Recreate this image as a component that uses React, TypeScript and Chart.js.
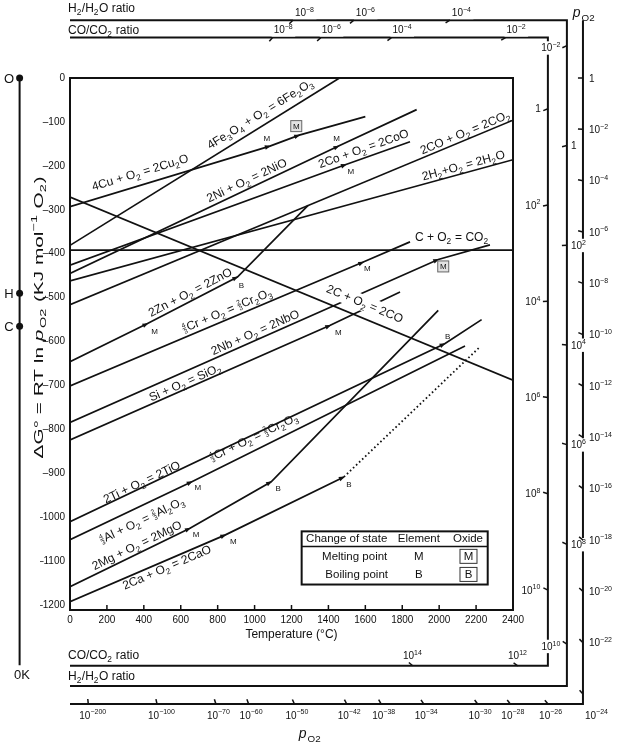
import React, { useEffect, useRef } from "react";
import { Chart, registerables } from "chart.js";

Chart.register(...registerables);

const FONT = "'Liberation Sans', Arial, Helvetica, sans-serif";
const INK = "#111";

// Axis ticks
const tempTicks = [0, 200, 400, 600, 800, 1000, 1200, 1400, 1600, 1800, 2000, 2200, 2400];
const dgTicks = [0, -100, -200, -300, -400, -500, -600, -700, -800, -900, -1000, -1100, -1200];

// Reaction lines: [temperature °C, ΔG° kJ/mol O2]
const cuLine = [[0, -293], [1083, -155], [1242, -130], [1600, -88]];
const fe3o4Line = [[0, -381], [1460, 0]];
const niLine = [[0, -445], [1455, -155], [1878, -72]];
const coLine = [[0, -426], [1495, -197], [1842, -145]];
const coCo2Line = [[0, -516], [2400, -96]];
const h2Line = [[0, -462], [2400, -186]];
const cCo2Line = [[0, -392], [2400, -392]];
const cCoLine = [[0, -271], [2400, -688]];
const znLine = [[0, -646], [420, -559], [907, -453], [1290, -290]];
const crLine = [[0, -701], [1589, -419], [1842, -373]];
const nbLine = [[0, -784], [1995, -413], [2275, -380]];
const siLine = [[0, -824], [1410, -563], [1788, -487]];
const tiLine = [[0, -1010], [2030, -605], [2230, -550]];
const alLine = [[0, -1051], [660, -919], [2140, -610]];
const mgLine = [[0, -1158], [650, -1025], [1090, -919], [1995, -529]];
const caLine = [[0, -1192], [842, -1040], [1484, -908]];
const caVapourLine = [[1484, -908], [2221, -612]];

const solidLines = [cuLine, fe3o4Line, niLine, coLine, coCo2Line, h2Line, cCo2Line, cCoLine,
  znLine, crLine, nbLine, siLine, tiLine, alLine, mgLine, caLine];

// Reaction labels (text centre in data units)
const lineLabels = [
  { text: "4Cu + O_2 = 2Cu_2O", t: 379, g: -214, along: cuLine },
  { text: "4Fe_3O_4 + O_2 = 6Fe_2O_3", t: 1029, g: -81, along: fe3o4Line },
  { text: "2Ni + O_2 = 2NiO", t: 957, g: -232, along: niLine },
  { text: "2Co + O_2 = 2CoO", t: 1589, g: -160, along: coLine },
  { text: "2CO + O_2 = 2CO_2", t: 2140, g: -123, along: coCo2Line },
  { text: "2H_2+O_2 = 2H_2O", t: 2131, g: -198, along: h2Line },
  { text: "C + O_2 = CO_2", t: 2068, g: -362, along: cCo2Line },
  { text: "2Zn + O_2 = 2ZnO", t: 650, g: -487, along: znLine },
  { text: "{4/3}Cr + O_2 = {2/3}Cr_2O_3", t: 849, g: -528, along: crLine },
  { text: "2Nb + O_2 = 2NbO", t: 1002, g: -578, along: nbLine },
  { text: "Si + O_2 = SiO_2", t: 623, g: -692, along: siLine },
  { text: "2C + O_2 = 2CO", t: 1598, g: -513, along: cCoLine, bg: true },
  { text: "{4/3}Cr + O_2 = {2/3}Cr_2O_3", t: 993, g: -817, along: tiLine },
  { text: "2Ti + O_2 = 2TiO", t: 388, g: -919, along: tiLine },
  { text: "{4/3}Al + O_2 = {2/3}Al_2O_3", t: 388, g: -1006, along: alLine },
  { text: "2Mg + O_2 = 2MgO", t: 361, g: -1063, along: mgLine },
  { text: "2Ca + O_2 = 2CaO", t: 524, g: -1113, along: caLine },
];

// Changes of state (M = melting, B = boiling; oxide = boxed)
const transitions = [
  { on: cuLine, t: 1083, kind: "M", oxide: false },
  { on: cuLine, t: 1242, kind: "M", oxide: true },
  { on: niLine, t: 1455, kind: "M", oxide: false },
  { on: coLine, t: 1495, kind: "M", oxide: false },
  { on: znLine, t: 420, kind: "M", oxide: false },
  { on: znLine, t: 907, kind: "B", oxide: false },
  { on: crLine, t: 1589, kind: "M", oxide: false },
  { on: nbLine, t: 1995, kind: "M", oxide: true },
  { on: siLine, t: 1410, kind: "M", oxide: false },
  { on: tiLine, t: 2030, kind: "B", oxide: false },
  { on: alLine, t: 660, kind: "M", oxide: false },
  { on: mgLine, t: 650, kind: "M", oxide: false },
  { on: mgLine, t: 1090, kind: "B", oxide: false },
  { on: caLine, t: 842, kind: "M", oxide: false },
  { on: caLine, t: 1484, kind: "B", oxide: false },
];
const transitionLabelOffsets = [[-3, -8], [-3, -9], [-2, -8], [5, 7], [7, 8], [4, 8], [4, 6], [5, 7],
  [8, 7], [3, -7], [6, 6], [6, 6], [7, 7], [8, 6], [5, 7]];

// Nomographic scales
const ZERO_K = -273;
const R_GAS = 0.008314;
const LN10 = Math.log(10);
const oPivot = 0;
const hPivot = -490;
const hEntropy = 0.1135;
const cPivot = -565;
const cEntropy = 0.173;
const leftAxisBottom = -1337;

const po2Box = { right: 2779, top: 131.5, bottom: -1425 };
const h2Box = { right: 2692, top: 131.5, bottom: -1384 };
const coBox = { right: 2589, top: 92, bottom: -1338 };

const po2RightExp = [0, -2, -4, -6, -8, -10, -12, -14, -16, -18, -20, -22];
const po2CornerExp = [-24];
const po2BottomExp = [-200, -100, -70, -60, -50, -42, -38, -34, -30, -28, -26];
const h2TopExp = [-8, -6, -4];
const h2RightExp = [-2, 0, 2, 4, 6, 8, 10];
const h2RightSide = ["L", "R", "R", "R", "R", "R", "L"];
const coTopExp = [-8, -6, -4, -2];
const coRightExp = [0, 2, 4, 6, 8, 10];
const coBottomExp = [14, 12];

const legendBox = { t0: 1255, t1: 2263, g0: -1032, g1: -1153 };

function parseRich(s: string) {
  const segs: any[] = [];
  let buf = "";
  const flush = () => { if (buf) { segs.push({ k: "n", t: buf }); buf = ""; } };
  let i = 0;
  while (i < s.length) {
    const c = s[i];
    if (c === "_" || c === "^") {
      flush();
      let t: string;
      if (s[i + 1] === "{") { const j = s.indexOf("}", i + 2); t = s.slice(i + 2, j); i = j + 1; }
      else { t = s[i + 1]; i += 2; }
      segs.push({ k: c === "_" ? "sub" : "sup", t });
    } else if (c === "{") {
      flush();
      const j = s.indexOf("}", i + 1);
      const [a, b] = s.slice(i + 1, j).split("/");
      segs.push({ k: "frac", t: a, d: b });
      i = j + 1;
    } else if (c === "*") {
      flush();
      segs.push({ k: "it", t: s[i + 1] });
      i += 2;
    } else { buf += c; i++; }
  }
  flush();
  return segs;
}

function drawRich(ctx: CanvasRenderingContext2D, s: string, x: number, y: number, size: number, opts: any = {}) {
  const { angle = 0, align = "center", bg = false, stretch = 1 } = opts;
  const segs = parseRich(s);
  const fN = `${size}px ${FONT}`;
  const fI = `italic ${size}px ${FONT}`;
  const fS = `${(size * 0.7).toFixed(1)}px ${FONT}`;
  const fF = `${(size * 0.55).toFixed(1)}px ${FONT}`;
  const widths = segs.map((g) => {
    if (g.k === "n") { ctx.font = fN; return ctx.measureText(g.t).width; }
    if (g.k === "it") { ctx.font = fI; return ctx.measureText(g.t).width + 1; }
    if (g.k === "frac") { ctx.font = fF; return Math.max(ctx.measureText(g.t).width, ctx.measureText(g.d).width) + 1.5; }
    ctx.font = fS; return ctx.measureText(g.t).width + 0.5;
  });
  const total = widths.reduce((a: number, b: number) => a + b, 0);
  ctx.save();
  ctx.translate(x, y);
  ctx.rotate(angle);
  ctx.scale(stretch, 1);
  let cx = align === "center" ? -total / 2 : align === "right" ? -total : 0;
  const base = size * 0.36;
  if (bg) { ctx.fillStyle = "#fff"; ctx.fillRect(cx - 2, -size * 0.64, total + 4, size * 1.34); }
  ctx.fillStyle = INK; ctx.strokeStyle = INK;
  ctx.textAlign = "left"; ctx.textBaseline = "alphabetic";
  segs.forEach((g, i) => {
    const w = widths[i];
    if (g.k === "n") { ctx.font = fN; ctx.fillText(g.t, cx, base); }
    else if (g.k === "it") { ctx.font = fI; ctx.fillText(g.t, cx, base); }
    else if (g.k === "sub") { ctx.font = fS; ctx.fillText(g.t, cx, base + size * 0.26); }
    else if (g.k === "sup") { ctx.font = fS; ctx.fillText(g.t, cx, base - size * 0.42); }
    else {
      ctx.font = fF; ctx.textAlign = "center";
      ctx.fillText(g.t, cx + w / 2, base - size * 0.4);
      ctx.fillText(g.d, cx + w / 2, base + size * 0.14);
      ctx.textAlign = "left";
      ctx.lineWidth = 0.6;
      ctx.beginPath(); ctx.moveTo(cx + 0.5, base - size * 0.33); ctx.lineTo(cx + w - 1, base - size * 0.33); ctx.stroke();
    }
    cx += w;
  });
  ctx.restore();
  return total;
}

function segAt(line: number[][], t: number) {
  for (let i = 0; i < line.length - 1; i++) {
    if (t <= line[i + 1][0] || i === line.length - 2) return [line[i], line[i + 1]];
  }
  return [line[0], line[1]];
}

const expLabel = (e: number) => (e === 0 ? "1" : `10^{${e < 0 ? "\u2212" : ""}${Math.abs(e)}}`);
const po2Slope = (e: number) => R_GAS * LN10 * e;
const ratioSlope = (b: number, e: number) => b - 2 * R_GAS * LN10 * e;

const diagramPlugin = {
  id: "ellingham",
  beforeDraw(chart: any) {
    const { ctx, width, height } = chart;
    ctx.save(); ctx.fillStyle = "#fff"; ctx.fillRect(0, 0, width, height); ctx.restore();
  },
  afterDatasetsDraw(chart: any) {
    const { ctx, chartArea: a, scales } = chart;
    const px = (t: number) => scales.x.getPixelForValue(t);
    const py = (g: number) => scales.y.getPixelForValue(g);
    ctx.save();

    // reaction labels
    lineLabels.forEach((L) => {
      const [p0, p1] = segAt(L.along, L.t);
      const ang = Math.atan2(py(p1[1]) - py(p0[1]), px(p1[0]) - px(p0[0]));
      drawRich(ctx, L.text, px(L.t), py(L.g), 12, { angle: ang, bg: !!L.bg });
    });

    // frame
    ctx.strokeStyle = INK; ctx.lineWidth = 2;
    ctx.strokeRect(a.left, a.top, a.right - a.left, a.bottom - a.top);
    ctx.lineWidth = 1.5;
    tempTicks.forEach((t) => {
      const x = px(t);
      ctx.beginPath(); ctx.moveTo(x, a.bottom); ctx.lineTo(x, a.bottom - 5); ctx.stroke();
    });

    // transition markers
    transitions.forEach((m, i) => {
      const [p0, p1] = segAt(m.on, m.t);
      const g = p0[1] + ((m.t - p0[0]) * (p1[1] - p0[1])) / (p1[0] - p0[0]);
      const x = px(m.t), y = py(g);
      const ang = Math.atan2(py(p1[1]) - py(p0[1]), px(p1[0]) - px(p0[0]));
      ctx.save(); ctx.translate(x, y); ctx.rotate(ang);
      ctx.fillStyle = INK; ctx.beginPath(); ctx.moveTo(1, 0); ctx.lineTo(-5, -2.3); ctx.lineTo(-5, 2.3); ctx.closePath(); ctx.fill();
      ctx.restore();
      const [dx, dy] = transitionLabelOffsets[i];
      const lx = x + dx, ly = y + dy;
      if (m.oxide) {
        ctx.fillStyle = "#e2e2e2"; ctx.strokeStyle = "#666"; ctx.lineWidth = 1;
        ctx.fillRect(lx - 5.5, ly - 5.5, 11, 11); ctx.strokeRect(lx - 5.5, ly - 5.5, 11, 11);
      }
      ctx.fillStyle = INK; ctx.font = `8px ${FONT}`; ctx.textAlign = "center"; ctx.textBaseline = "middle";
      ctx.fillText(m.kind, lx, ly + 0.5);
    });

    // legend table
    const lx0 = px(legendBox.t0), lx1 = px(legendBox.t1), ly0 = py(legendBox.g0), ly1 = py(legendBox.g1);
    const lw = lx1 - lx0, lh = ly1 - ly0;
    ctx.fillStyle = "#fff"; ctx.fillRect(lx0, ly0, lw, lh);
    ctx.strokeStyle = INK; ctx.lineWidth = 2; ctx.strokeRect(lx0, ly0, lw, lh);
    ctx.lineWidth = 1.5;
    ctx.beginPath(); ctx.moveTo(lx0, ly0 + lh * 0.285); ctx.lineTo(lx1, ly0 + lh * 0.285); ctx.stroke();
    ctx.fillStyle = INK; ctx.font = `11.5px ${FONT}`; ctx.textBaseline = "middle"; ctx.textAlign = "center";
    const cols = [lx0 + lw * 0.242, lx0 + lw * 0.63, lx0 + lw * 0.894];
    const rows = [ly0 + lh * 0.145, ly0 + lh * 0.47, ly0 + lh * 0.81];
    ctx.fillText("Change of state", cols[0], rows[0]);
    ctx.fillText("Element", cols[1], rows[0]);
    ctx.fillText("Oxide", cols[2], rows[0]);
    ctx.fillText("Melting point", cols[0] + 8, rows[1]);
    ctx.fillText("Boiling point", cols[0] + 10, rows[2]);
    ctx.fillText("M", cols[1], rows[1]);
    ctx.fillText("B", cols[1], rows[2]);
    [["M", rows[1]], ["B", rows[2]]].forEach(([t, ry]: any) => {
      ctx.strokeStyle = "#333"; ctx.lineWidth = 1;
      ctx.strokeRect(cols[2] - 8, ry - 7, 17, 14);
      ctx.fillStyle = INK; ctx.fillText(t, cols[2] + 0.5, ry + 0.5);
    });

    // ---- nomograph brackets ----
    ctx.strokeStyle = INK; ctx.lineWidth = 2; ctx.lineJoin = "miter";
    const bracket = (b: any) => {
      ctx.beginPath();
      ctx.moveTo(px(0), py(b.top)); ctx.lineTo(px(b.right), py(b.top));
      ctx.lineTo(px(b.right), py(b.bottom)); ctx.lineTo(px(0), py(b.bottom));
      ctx.stroke();
    };
    bracket(h2Box);
    bracket(coBox);
    ctx.beginPath();
    ctx.moveTo(px(po2Box.right), py(po2Box.top)); ctx.lineTo(px(po2Box.right), py(po2Box.bottom));
    ctx.lineTo(px(0), py(po2Box.bottom)); ctx.stroke();
    // 0 K axis
    ctx.beginPath(); ctx.moveTo(px(ZERO_K), py(oPivot)); ctx.lineTo(px(ZERO_K), py(leftAxisBottom)); ctx.stroke();
    [oPivot, hPivot, cPivot].forEach((g) => {
      ctx.beginPath(); ctx.arc(px(ZERO_K), py(g), 3.5, 0, Math.PI * 2); ctx.fillStyle = INK; ctx.fill();
    });

    const ticks: any[] = [];
    const addTick = (pivotG: number, t: number, g: number) => ticks.push({ x: px(t), y: py(g), qx: px(ZERO_K), qy: py(pivotG) });
    const LS = 10;
    // pO2 right
    po2RightExp.forEach((e) => {
      const g = oPivot + po2Slope(e) * (po2Box.right - ZERO_K);
      addTick(oPivot, po2Box.right, g);
      drawRich(ctx, expLabel(e), px(po2Box.right) + 6, py(g), LS, { align: "left", bg: true });
    });
    po2CornerExp.forEach((e) => {
      const g = oPivot + po2Slope(e) * (po2Box.right - ZERO_K);
      addTick(oPivot, po2Box.right, g);
      drawRich(ctx, expLabel(e), px(po2Box.right) + 2, py(po2Box.bottom) + 11, LS, { align: "left", bg: true });
    });
    po2BottomExp.forEach((e) => {
      const t = (po2Box.bottom - oPivot) / po2Slope(e) + ZERO_K;
      addTick(oPivot, t, po2Box.bottom);
      drawRich(ctx, expLabel(e), px(t) - 9, py(po2Box.bottom) + 11, LS, { align: "left", bg: true });
    });
    // H2/H2O
    h2TopExp.forEach((e) => {
      const t = (h2Box.top - hPivot) / ratioSlope(hEntropy, e) + ZERO_K;
      addTick(hPivot, t, h2Box.top);
      drawRich(ctx, expLabel(e), px(t) + 2, py(h2Box.top) - 8, LS, { align: "left", bg: true });
    });
    h2RightExp.forEach((e, i) => {
      const g = hPivot + ratioSlope(hEntropy, e) * (h2Box.right - ZERO_K);
      addTick(hPivot, h2Box.right, g);
      if (h2RightSide[i] === "R") drawRich(ctx, expLabel(e), px(h2Box.right) + 4, py(g), LS, { align: "left", bg: true });
      else drawRich(ctx, expLabel(e), px(h2Box.right) - 6, py(g) + 2, LS, { align: "right", bg: true });
    });
    // CO/CO2
    coTopExp.forEach((e) => {
      const t = (coBox.top - cPivot) / ratioSlope(cEntropy, e) + ZERO_K;
      addTick(cPivot, t, coBox.top);
      drawRich(ctx, expLabel(e), px(t) + 1, py(coBox.top) - 8, LS, { align: "left", bg: true });
    });
    coRightExp.forEach((e) => {
      const g = cPivot + ratioSlope(cEntropy, e) * (coBox.right - ZERO_K);
      addTick(cPivot, coBox.right, g);
      drawRich(ctx, expLabel(e), px(coBox.right) - 7, py(g), LS, { align: "right", bg: true });
    });
    coBottomExp.forEach((e) => {
      const t = (coBox.bottom - cPivot) / ratioSlope(cEntropy, e) + ZERO_K;
      addTick(cPivot, t, coBox.bottom);
      drawRich(ctx, expLabel(e), px(t), py(coBox.bottom) - 10, LS, { align: "center", bg: true });
    });
    ctx.strokeStyle = INK; ctx.lineWidth = 1.5;
    ticks.forEach((k) => {
      const dx = k.qx - k.x, dy = k.qy - k.y, d = Math.hypot(dx, dy);
      ctx.beginPath(); ctx.moveTo(k.x, k.y); ctx.lineTo(k.x + (dx / d) * 5, k.y + (dy / d) * 5); ctx.stroke();
    });

    // titles
    drawRich(ctx, "Temperature (\u00B0C)", px(1200), a.bottom + 24, 12);
    drawRich(ctx, "\u0394G\u00B0 = RT ln *p_{O2} (KJ mol^{\u22121} O_2)", 38, py(-545), 13, { angle: -Math.PI / 2, stretch: 1.6 });
    drawRich(ctx, "H_2/H_2O ratio", 68, py(h2Box.top) - 13, 12, { align: "left" });
    drawRich(ctx, "CO/CO_2 ratio", 68, py(coBox.top) - 8, 12, { align: "left" });
    drawRich(ctx, "CO/CO_2 ratio", 68, py(coBox.bottom) - 11, 12, { align: "left" });
    drawRich(ctx, "H_2/H_2O ratio", 68, py(h2Box.bottom) - 10, 12, { align: "left" });
    drawRich(ctx, "*p_{O2}", px(po2Box.right) + 1, py(po2Box.top) - 8, 14);
    drawRich(ctx, "*p_{O2}", px(1300), py(po2Box.bottom) + 29, 14);
    drawRich(ctx, "O", 9, py(oPivot), 13);
    drawRich(ctx, "H", 9, py(hPivot), 13);
    drawRich(ctx, "C", 9, py(cPivot), 13);
    drawRich(ctx, "0K", 22, py(leftAxisBottom) + 9, 13);

    ctx.restore();
  },
};

export default function App() {
  const canvasRef = useRef<HTMLCanvasElement | null>(null);
  useEffect(() => {
    const canvas = canvasRef.current;
    if (!canvas) return;
    const datasets: any[] = solidLines.map((l) => ({
      data: l.map(([x, y]) => ({ x, y })),
      showLine: true, borderColor: INK, borderWidth: 1.7, pointRadius: 0, fill: false, tension: 0,
    }));
    datasets.push({
      data: caVapourLine.map(([x, y]) => ({ x, y })),
      showLine: true, borderColor: INK, borderWidth: 1.8, borderDash: [1.6, 2.6], pointRadius: 0, fill: false,
    });
    const chart = new Chart(canvas, {
      type: "scatter",
      data: { datasets },
      options: {
        animation: false,
        responsive: false,
        devicePixelRatio: 1,
        events: [],
        layout: { padding: { left: 40, top: 78, right: 104, bottom: 116 } },
        plugins: { legend: { display: false }, tooltip: { enabled: false } },
        scales: {
          x: {
            type: "linear", position: "bottom", min: 0, max: 2400,
            afterFit: (s: any) => { s.height = 22; },
            afterBuildTicks: (s: any) => { s.ticks = tempTicks.map((v) => ({ value: v })); },
            ticks: {
              font: { family: FONT, size: 10 }, color: INK, padding: 4, maxRotation: 0, autoSkip: false,
              callback: (v: any) => String(v),
            },
            grid: { display: false, drawTicks: false },
            border: { display: false },
          },
          y: {
            type: "linear", position: "left", min: -1211, max: 0,
            afterFit: (s: any) => { s.width = 30; },
            afterBuildTicks: (s: any) => { s.ticks = dgTicks.map((v) => ({ value: v })); },
            ticks: {
              font: { family: FONT, size: 10 }, color: INK, padding: 5, autoSkip: false,
              callback: (v: any) => (v === 0 ? "0" : "\u2013" + Math.abs(v)),
            },
            grid: { display: false, drawTicks: false },
            border: { display: false },
          },
        },
      } as any,
      plugins: [diagramPlugin],
    });
    return () => chart.destroy();
  }, []);
  return (
    <div style={{ position: "absolute", left: 0, top: 0, width: 617, height: 748, background: "#fff" }}>
      <canvas ref={canvasRef} width={617} height={748} style={{ display: "block" }} />
    </div>
  );
}
